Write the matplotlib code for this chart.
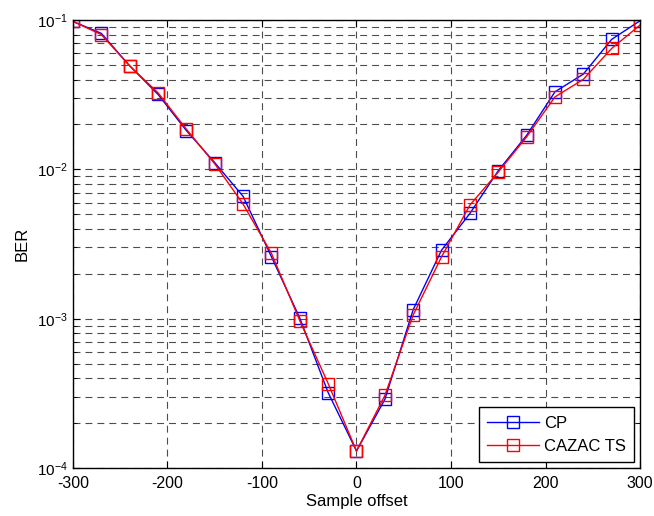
import numpy as np
import matplotlib
matplotlib.use("Agg")
import matplotlib.pyplot as plt
from matplotlib.ticker import LogLocator, FixedLocator

plt.rcParams["font.family"] = ["Liberation Sans", "DejaVu Sans"]
plt.rcParams["mathtext.fontset"] = "custom"
plt.rcParams["mathtext.rm"] = "Liberation Sans"
plt.rcParams["axes.unicode_minus"] = False
plt.rcParams["lines.scale_dashes"] = False

# sample offsets and BER values
offset = [-300, -270, -240, -210, -180, -150, -120, -90, -60, -30, 0,
          30, 60, 90, 120, 150, 180, 210, 240, 270, 300]
ber_cp = [0.098, 0.0815, 0.0494, 0.0318, 0.0182, 0.0111, 0.0066, 0.0026,
          0.00101, 0.00032, 0.00013, 0.000288, 0.00115, 0.00288, 0.00507,
          0.0098, 0.0169, 0.0331, 0.0435, 0.0743, 0.099]
ber_cazac = [0.098, 0.080, 0.0494, 0.0326, 0.0186, 0.0109, 0.00586, 0.00274,
             0.00097, 0.000368, 0.00013, 0.000306, 0.00106, 0.0026, 0.00577,
             0.0096, 0.0165, 0.0306, 0.0401, 0.0646, 0.0926]

fig = plt.figure(figsize=(6.54, 5.16), dpi=100)
ax = fig.add_axes([0.1116, 0.093, 0.867, 0.868])

ax.plot(offset, ber_cp, color="blue", marker="s", markersize=8,
        markerfacecolor="none", markeredgewidth=1.0, linewidth=1.0, label="CP")
ax.plot(offset, ber_cazac, color="red", marker="s", markersize=8,
        markerfacecolor="none", markeredgewidth=1.0, linewidth=1.0,
        label="CAZAC TS")

ax.set_yscale("log")
ax.set_xlim(-300, 300)
ax.set_ylim(1e-4, 1e-1)
ax.xaxis.set_major_locator(FixedLocator(np.arange(-300, 301, 100)))
ax.yaxis.set_major_locator(LogLocator(base=10, numticks=10))
ax.yaxis.set_minor_locator(LogLocator(base=10, subs=np.arange(2, 10), numticks=20))
ax.yaxis.set_minor_formatter(plt.NullFormatter())

dash = (0, (5, 3.6))
ax.grid(True, which="major", color="0.3", linestyle=dash, linewidth=0.8)
ax.grid(True, which="minor", axis="y", color="0.3", linestyle=dash,
        linewidth=0.8)
ax.set_axisbelow(True)

ax.tick_params(which="both", direction="in", top=True, right=True,
               colors="black")
ax.tick_params(which="major", length=5)
ax.tick_params(which="minor", length=3)
ax.tick_params(axis="x", pad=6, labelsize=11.5)
ax.tick_params(axis="y", pad=4, labelsize=11)
for s in ax.spines.values():
    s.set_linewidth(1.0)

ax.set_xlabel("Sample offset", fontsize=12, labelpad=2)
ax.set_ylabel("BER", fontsize=12, labelpad=5)

leg = ax.legend(loc="lower right", fancybox=False, framealpha=1,
                edgecolor="black", fontsize=12, handlelength=3.1,
                handletextpad=0.3, labelspacing=0.5, borderpad=0.5,
                borderaxespad=0.35)
leg.get_frame().set_linewidth(1.0)

fig.savefig("out.png", dpi=100)
